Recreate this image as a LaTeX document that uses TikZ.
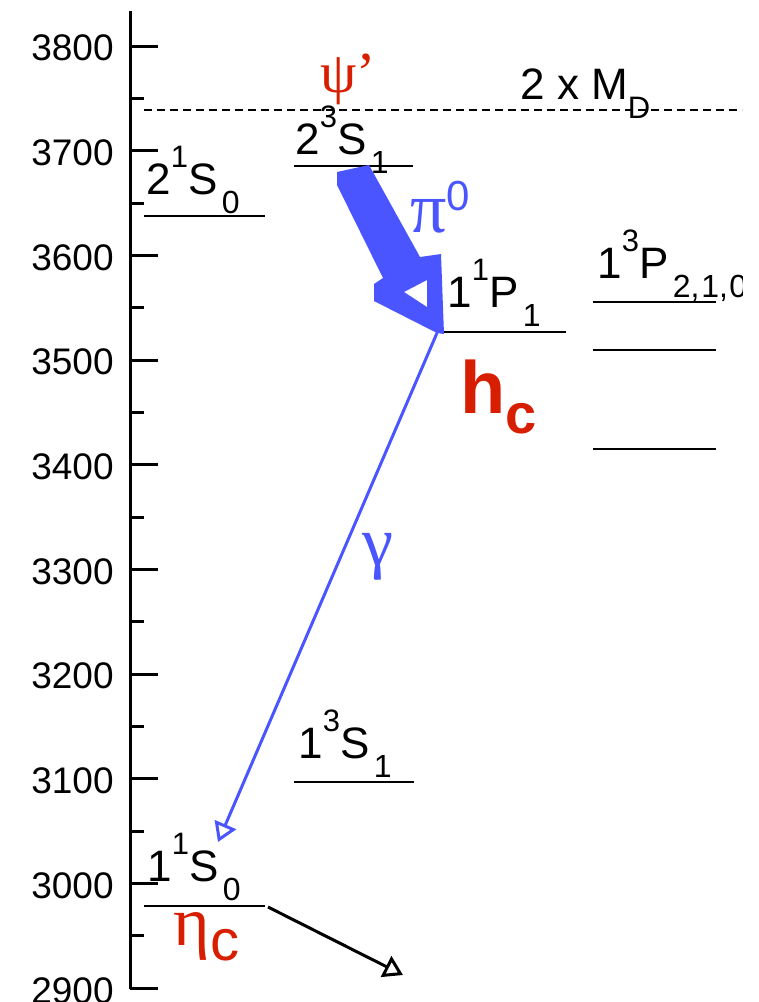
\documentclass[tikz,border=0pt]{standalone}
\usepackage{fontspec}
\setmainfont{Liberation Sans}
\newfontfamily\grk{Liberation Serif}
\usetikzlibrary{arrows.meta}
\definecolor{psired}{HTML}{D81E00}
\definecolor{pionblue}{HTML}{4A55FF}
\newcommand{\lvl}[4]{#1\raisebox{0.6em}{\fontsize{15.5}{16}\selectfont#2}#3\hspace{0.1em}\raisebox{-0.45em}{\fontsize{16}{16}\selectfont#4}}

\begin{document}
\begin{tikzpicture}[x=0.5pt,y=-0.5pt,
  axisline/.style={line width=1.5pt},
  lvline/.style={line width=1.4pt},
  lab/.style={anchor=base west,inner sep=0pt,font=\fontsize{22}{23}\selectfont},
  grklab/.style={anchor=base west,inner sep=0pt}]
  \useasboundingbox (0,0) rectangle (759,1002);
  \clip (0,0) rectangle (742,1002);
  % energy axis
  \draw[axisline] (130,11) -- (130,989);
  \foreach \e in {2900,3000,...,3800}{
    \draw[axisline] (130,{46+(3800-\e)*1.047}) -- ++(28,0);
    \node[anchor=east,inner sep=0pt,font=\fontsize{18.5}{19}\selectfont] (t\e) at (114,{48+(3800-\e)*1.047}) {\e};
  }
  \foreach \e in {2950,3050,...,3750}
    \draw[axisline] (130,{46+(3800-\e)*1.047}) -- ++(14,0);
  % open charm threshold
  \draw[line width=1pt,dash pattern=on 4pt off 2.5pt] (144,110) -- (742,110);
  \node[anchor=base west,inner sep=0pt,font=\fontsize{22}{23}\selectfont] (md) at (520,99)
    {2 x M\raisebox{-0.45em}{\fontsize{15.5}{16}\selectfont D}};
  % levels
  \draw[lvline] (144,216) -- (265,216);
  \draw[lvline] (294,166) -- (413,166);
  \draw[lvline] (443,332) -- (566,332);
  \draw[lvline] (593,302) -- (716,302);
  \draw[lvline] (593,350) -- (716,350);
  \draw[lvline] (593,449) -- (716,449);
  \draw[lvline] (294,782) -- (414,782);
  \draw[lvline] (144,906) -- (265,906);
  \node[lab] (s21) at (146,194) {\lvl{2}{1}{S}{0}};
  \node[lab] (s23) at (295,154) {\lvl{2}{3}{S}{1}};
  \node[lab] (p11) at (447,307) {\lvl{1}{1}{P}{1}};
  \node[lab] (p13) at (597,278) {\lvl{1}{3}{P}{2,\kern0.06em1,\kern0.04em0}};
  \node[lab] (s13) at (298,758) {\lvl{1}{3}{S}{1}};
  \node[lab] (s11) at (147,881) {\lvl{1}{1}{S}{0}};
  % particle names
  \node[grklab,text=psired,font=\grk\fontsize{29}{30}\selectfont] (psi) at (320,92) {ψ’};
  \node[grklab,text=psired,font=\bfseries\fontsize{37}{38}\selectfont] (hcname) at (460,413)
    {h\raisebox{-10pt}{\fontsize{28}{29}\selectfont c}};
  \node[grklab,text=psired] (etaname) at (173,945)
    {{\grk\fontsize{35}{36}\selectfont η}\raisebox{-7.5pt}{\fontsize{29}{30}\selectfont c}};
  \node[grklab,text=pionblue] (pizero) at (410,232)
    {{\grk\fontsize{36}{37}\selectfont π}\raisebox{11pt}{\fontsize{21}{22}\selectfont 0}};
  \node[grklab,text=pionblue,font=\grk\fontsize{35}{36}\selectfont] (gam) at (362,565) {γ};
  % transitions
  \coordinate (hc) at (437,333);
  \coordinate (etac) at (218,842);
  \coordinate (etaend) at (268,907);
  \coordinate (decay) at (403,975);
  \fill[pionblue,even odd rule] (337,172) -- (369,165) -- (420,257) -- (441,254) -- (444,334)
    -- (hc) -- (374,301) -- (374,284) -- (383,278) -- (337,185) -- cycle
    (404,292) -- (427,280) -- (427,307) -- cycle;
  \draw[pionblue,line width=1.5pt,-{Triangle[open,length=9.5pt,width=11.5pt]}] (hc) -- (etac);
  \draw[line width=1.5pt,-{Triangle[open,length=9.5pt,width=11.5pt]}] (etaend) -- (decay);
\end{tikzpicture}
\end{document}
